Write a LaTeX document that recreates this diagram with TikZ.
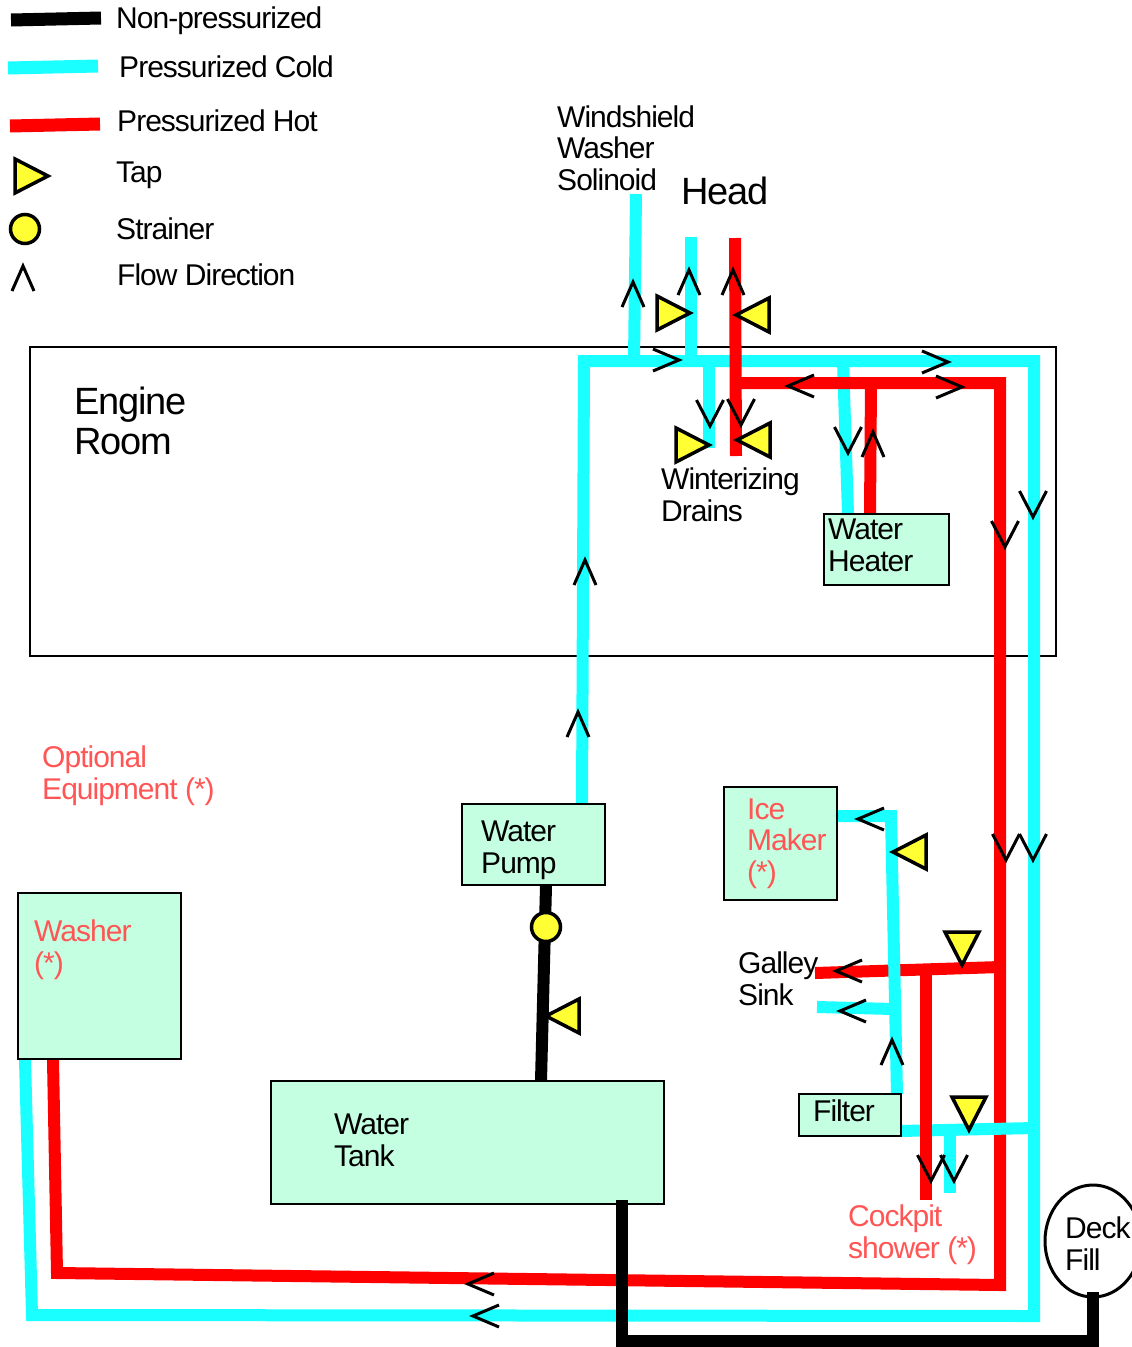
\documentclass[tikz,border=0pt]{standalone}
\usepackage{fontspec}
\setmainfont[LetterSpace=-3.3]{Liberation Sans}
\usepackage{tikz}
\usetikzlibrary{arrows.meta,positioning,shapes.geometric}
\definecolor{coldpipe}{HTML}{1AFFFF}
\definecolor{hotpipe}{HTML}{FF0000}
\definecolor{tapfill}{HTML}{FFFF33}
\definecolor{boxfill}{HTML}{C4FFE1}
\definecolor{optional}{HTML}{FF5555}
\begin{document}
\begin{tikzpicture}[
  x=1pt, y=-1pt, line join=miter,
  lab/.style={anchor=base west, inner sep=0pt, align=left, yshift=-1pt, font=\fontsize{30}{31.5}\selectfont},
  biglab/.style={lab, font=\fontsize{38}{40}\selectfont},
  opt/.style={lab, text=optional},
  unit/.style={draw, line width=2pt, fill=boxfill, inner sep=0pt, outer sep=0pt},
  cold/.style={draw=coldpipe, line width=12pt},
  hot/.style={draw=hotpipe, line width=12pt},
  raw/.style={draw=black, line width=12pt},
  tapr/.style={draw, line width=3.5pt, fill=tapfill, isosceles triangle, isosceles triangle stretches, inner sep=0pt, outer sep=0pt, minimum width=34pt, minimum height=33pt, anchor=apex},
  tapl/.style={tapr, shape border rotate=180},
  tapd/.style={tapr, shape border rotate=270},
  flow/.style={draw, line width=3pt}
]
\useasboundingbox (0,0) rectangle (1132,1347);

\node[draw, line width=1.3pt, minimum width=1026pt, minimum height=309pt, inner sep=0pt] (engine) at (543,501.5) {};

\coordinate (pumpout) at (582,804);
\coordinate (coldtl) at (584,361);
\coordinate (coldtr) at (1034,361);
\coordinate (coldbr) at (1034,1316);
\coordinate (coldbl) at (32,1315);
\coordinate (washercold) at (25,1060);
\coordinate (solinoidj) at (634,361);
\coordinate (solinoid) at (636,194);
\coordinate (headcoldj) at (691,361);
\coordinate (headcold) at (691,237);
\coordinate (draincoldj) at (709,361);
\coordinate (draincold) at (709,448);
\coordinate (heatercoldj) at (843,361);
\coordinate (heatercold) at (848,514);
\coordinate (headhot) at (735,238);
\coordinate (drainhot) at (736,456);
\coordinate (hotj) at (736,383);
\coordinate (hottr) at (1000,383);
\coordinate (hotbr) at (1000,1285);
\coordinate (hotbl) at (57,1273);
\coordinate (washerhot) at (53,1060);
\coordinate (heaterhotj) at (871,383);
\coordinate (heaterhot) at (870,514);
\coordinate (galleyhot) at (815,973);
\coordinate (galleyhotj) at (1000,967);
\coordinate (filterup) at (897,1094);
\coordinate (icecorner) at (891,816);
\coordinate (iceend) at (837,816);
\coordinate (galleycold) at (817,1007);
\coordinate (galleycoldj) at (893,1009);
\coordinate (filterout) at (900,1131);
\coordinate (filterj) at (1034,1128);
\coordinate (showercoldj) at (950,1130);
\coordinate (showercold) at (950,1193);
\coordinate (showerhotj) at (926,972);
\coordinate (showerhot) at (926,1200);
\coordinate (tankup) at (541,1081);
\coordinate (pumpin) at (546,886);
\coordinate (tankdown) at (622,1200);
\coordinate (rawbl) at (622,1341);
\coordinate (rawbr) at (1093,1341);
\coordinate (deckout) at (1093,1292);

\draw[cold] (pumpout) -- (coldtl) -- (coldtr) -- (coldbr) -- (coldbl) -- (washercold);
\draw[cold] (solinoidj) -- (solinoid);
\draw[cold] (headcoldj) -- (headcold);
\draw[cold] (draincoldj) -- (draincold);
\draw[cold] (heatercoldj) -- (heatercold);
\draw[hot] (headhot) -- (drainhot);
\draw[hot] (hotj) -- (hottr) -- (hotbr) -- (hotbl) -- (washerhot);
\draw[hot] (heaterhotj) -- (heaterhot);
\draw[hot] (galleyhot) -- (galleyhotj);
\draw[cold] (filterup) -- (icecorner) -- (iceend);
\draw[cold] (galleycold) -- (galleycoldj);
\draw[cold] (filterout) -- (filterj);
\draw[cold] (showercoldj) -- (showercold);
\draw[hot] (showerhotj) -- (showerhot);

\node[unit, minimum width=143pt, minimum height=81pt] (pump) at (533.5,844.5) {};
\node[unit, minimum width=393pt, minimum height=123pt] (tank) at (467.5,1142.5) {};
\node[unit, minimum width=163pt, minimum height=166pt] (washer) at (99.5,976) {};
\node[unit, minimum width=113pt, minimum height=113pt] (icemaker) at (780.5,843.5) {};
\node[unit, minimum width=102pt, minimum height=42pt] (filter) at (850,1115) {};
\node[unit, minimum width=125pt, minimum height=71pt] (heater) at (886.5,549.5) {};
\node[draw, ellipse, line width=3pt, inner sep=0pt, minimum width=96pt, minimum height=112pt] (deck) at (1093,1241) {};

\draw[raw] (tankup) -- (pumpin);
\draw[raw] (tankdown) -- (rawbl) -- (rawbr) -- (deckout);

\draw[raw, line width=13pt] (11,20) -- (101,18);
\draw[cold, line width=13pt] (8,68) -- (98,66);
\draw[hot, line width=13pt] (10,126) -- (100,124);
\node[tapr] (legendtap) at (48,176) {};
\node[draw, circle, line width=3.5pt, fill=tapfill, inner sep=0pt, minimum size=29pt] (legendstrainer) at (25,229) {};
\node[draw, circle, line width=3.5pt, fill=tapfill, inner sep=0pt, minimum size=29pt] (strainer) at (546,927) {};

\node[tapr] (tapsolinoid) at (690,313) {};
\node[tapl] (taphead) at (736,315) {};
\node[tapr] (tapdraincold) at (709,445) {};
\node[tapl] (tapdrainhot) at (737,440) {};
\node[tapl] (tapice) at (893,852) {};
\node[tapl] (tappump) at (546,1016) {};
\node[tapd] (tapgalley) at (962,965) {};
\node[tapd] (tapshower) at (969,1130) {};

\foreach \x/\y in {23/266, 633/282, 689/270, 733/270, 873/432, 585/560, 578/712, 892/1040}
  \draw[flow] ({\x-11},{\y+25}) -- (\x,\y) -- ({\x+11},{\y+25});
\foreach \x/\y in {710/426, 741/425, 848/453, 1033/517, 1005/547, 1006/860, 1033/860, 931/1181, 954/1181}
  \draw[flow] ({\x-13.5},{\y-26}) -- (\x,\y) -- ({\x+13.5},{\y-26});
\foreach \x/\y in {788/386, 858/819, 836/971, 840/1011, 468/1284, 473/1316}
  \draw[flow] ({\x+26},{\y-11}) -- (\x,\y) -- ({\x+26},{\y+11});
\foreach \x/\y in {679/360, 948/362, 962/387}
  \draw[flow] ({\x-26},{\y-11}) -- (\x,\y) -- ({\x-26},{\y+11});

\node[lab] (legendraw) at (116,27) {Non-pressurized};
\node[lab] (legendcold) at (119,76) {Pressurized Cold};
\node[lab] (legendhot) at (117,130) {Pressurized Hot};
\node[lab] (legendtaptext) at (116,181) {Tap};
\node[lab] (legendstrainertext) at (116,238) {Strainer};
\node[lab] (legendflow) at (117,284) {Flow Direction};
\node[lab] (solinoidtext) at (557,189) {Windshield\\Washer\\Solinoid};
\node[biglab] (headtext) at (681,203) {Head};
\node[biglab] (enginetext) at (74,453) {Engine\\Room};
\node[lab] (draintext) at (661,520) {Winterizing\\Drains};
\node[lab] (heatertext) at (828,570) {Water\\Heater};
\node[lab] (pumptext) at (481,872) {Water\\Pump};
\node[lab] (tanktext) at (334,1165) {Water\\Tank};
\node[lab] (filtertext) at (813,1120) {Filter};
\node[lab] (galleytext) at (738,1004) {Galley\\Sink};
\node[lab] (decktext) at (1065,1269) {Deck\\Fill};
\node[opt] (icetext) at (747,881) {Ice\\Maker\\(*)};
\node[opt] (showertext) at (848,1257) {Cockpit\\shower (*)};
\node[opt] (washertext) at (34,972) {Washer\\(*)};
\node[opt] (optionaltext) at (42,798) {Optional\\Equipment (*)};
\end{tikzpicture}
\end{document}
